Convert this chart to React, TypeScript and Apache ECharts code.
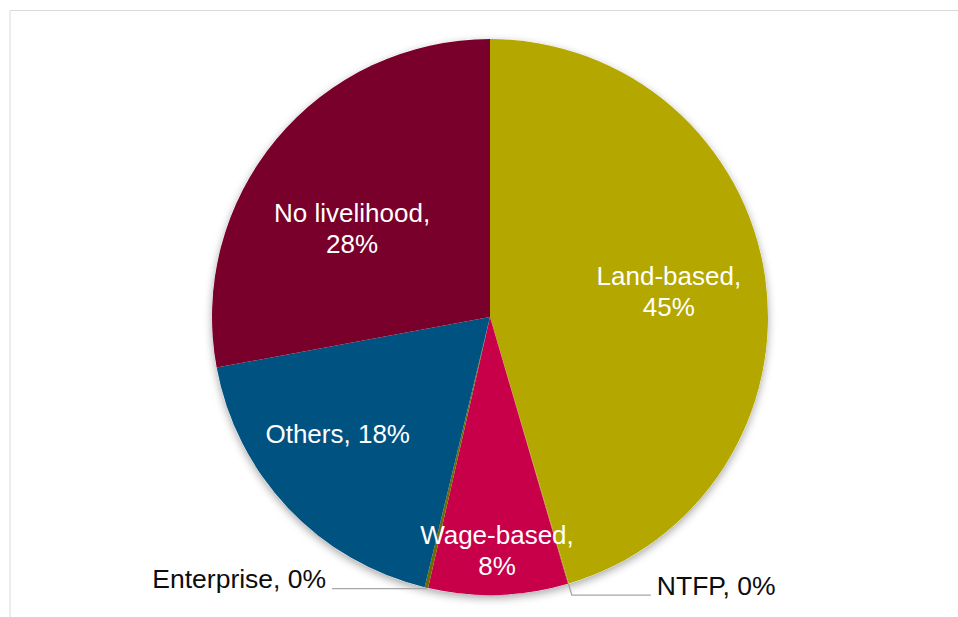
import React, { useEffect, useRef } from "react";
import * as echarts from "echarts";

const categories = ["Land-based", "NTFP", "Wage-based", "Enterprise", "Others", "No livelihood"];
const shares = [45.4, 0.05, 8.1, 0.2, 18.3, 27.9];
const sliceColors = ["#b3a700", "#a89c00", "#c8004a", "#6f6a00", "#005280", "#78002a"];
const twoLineLabels = ["Land-based", "Wage-based", "No livelihood"];
const outsideLabels = ["NTFP", "Enterprise"];

const CX = 490;
const CY = 317;
const R = 278;
// inside label placement: [fraction of radius, angle offset in degrees]
const insidePlacement: Record<string, [number, number]> = {
  "Land-based": [0.65, 0],
  "Wage-based": [0.84, 0],
  "Others": [0.69, 6],
  "No livelihood": [0.59, -7],
};

export default function App() {
  const ref = useRef<HTMLDivElement>(null);
  useEffect(() => {
    if (!ref.current) return;
    const chart = echarts.init(ref.current, undefined, { renderer: "svg" });
    const total = shares.reduce((a, b) => a + b, 0);
    const midAngles: number[] = [];
    let cum = 0;
    shares.forEach((v) => {
      midAngles.push(((cum + v / 2) / total) * 360);
      cum += v;
    });
    const font = "'Liberation Sans', Arial, sans-serif";
    const data = categories.map((name, i) => {
      const outside = outsideLabels.includes(name);
      const item: any = {
        name,
        value: shares[i],
        itemStyle: { color: sliceColors[i] },
      };
      if (outside) {
        item.label = {
          position: "outside",
          color: "#0d0d0d",
          fontSize: 26.5,
          lineHeight: 19,
          distanceToLabelLine: 6,
          formatter: (p: any) => `${p.name}, ${Math.round(p.value)}%\n `,
        };
        item.labelLine = {
          show: true,
          length: name === "NTFP" ? 12 : 1,
          length2: name === "NTFP" ? 79 : 94,
          lineStyle: { color: "#a6a6a6", width: 1.3 },
        };
      }
      return item;
    });
    chart.setOption({
      animation: false,
      backgroundColor: "#ffffff",
      graphic: [
        {
          type: "rect",
          shape: { x: 10, y: 10.5, width: 1200, height: 1200 },
          style: { fill: "none", stroke: "#d9d9d9", lineWidth: 1 },
          silent: true,
          z: -10,
        },
      ],
      series: [
        {
          type: "pie",
          silent: true,
          center: [CX, CY],
          radius: [0, R],
          z: 1,
          data: [{ value: 1, name: "shadow" }],
          label: { show: false },
          labelLine: { show: false },
          itemStyle: {
            color: "#ffffff",
            shadowBlur: 8,
            shadowOffsetY: 3,
            shadowColor: "rgba(0,0,0,0.35)",
          },
        },
        {
          type: "pie",
          z: 2,
          center: [CX, CY],
          radius: [0, R],
          startAngle: 90,
          clockwise: true,
          avoidLabelOverlap: false,
          data,
          itemStyle: { borderWidth: 0 },
          label: {
            show: true,
            position: "inside",
            color: "#ffffff",
            fontFamily: font,
            fontSize: 26,
            lineHeight: 31,
            formatter: (p: any) =>
              twoLineLabels.includes(p.name)
                ? `${p.name},\n${Math.round(p.value)}%`
                : `${p.name}, ${Math.round(p.value)}%`,
          },
          labelLine: { show: false },
          labelLayout: (params: any) => {
            const name = categories[params.dataIndex];
            const place = insidePlacement[name];
            if (!place) return {};
            const a = ((midAngles[params.dataIndex] + place[1]) * Math.PI) / 180;
            return {
              x: CX + place[0] * R * Math.sin(a),
              y: CY - place[0] * R * Math.cos(a),
              align: "center",
              verticalAlign: "middle",
            };
          },
        },
      ],
    });
    return () => chart.dispose();
  }, []);
  return (
    <div
      ref={ref}
      style={{ position: "absolute", left: 0, top: 0, width: 958, height: 617 }}
    />
  );
}
